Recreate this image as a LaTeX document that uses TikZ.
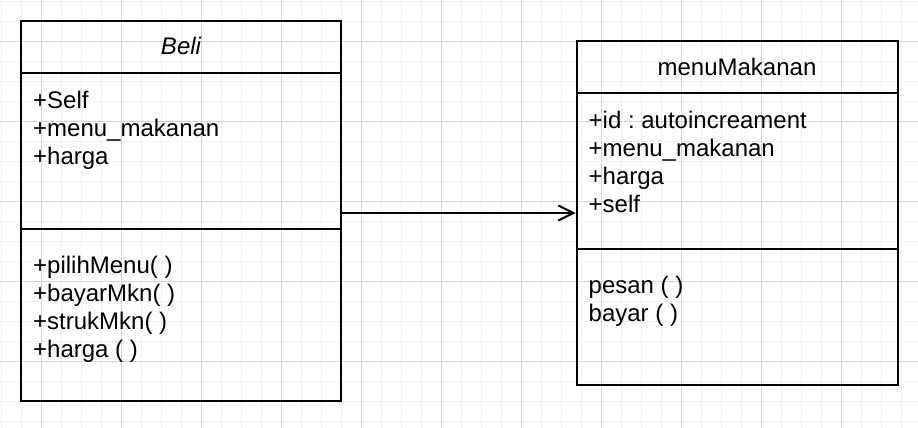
\documentclass[tikz,border=0pt]{standalone}
\usepackage{fontspec}
\setmainfont{Liberation Sans}
\usetikzlibrary{arrows.meta}
\definecolor{gridminor}{HTML}{F2F2F2}
\definecolor{gridmajor}{HTML}{D4D4D4}
\frenchspacing

\begin{document}
\begin{tikzpicture}[x=1pt, y=-1pt,
        member/.style={anchor=base west, inner sep=0pt, font=\fontsize{24}{28}\selectfont},
        title/.style={anchor=base, inner sep=0pt, font=\fontsize{24}{28}\selectfont},
        classbox/.style={draw, line width=2pt, inner sep=0pt}]
        \useasboundingbox (0,0) rectangle (918,428);
        \fill[white] (0,0) rectangle (918,428);

        \foreach \k in {0,...,45} \draw[gridminor, line width=1pt] ({1.7+20*\k},0) -- ({1.7+20*\k},428);
        \foreach \k in {0,...,21} \draw[gridminor, line width=1pt] (0,{1.7+20*\k}) -- (918,{1.7+20*\k});
        \foreach \k in {0,...,11} \draw[gridmajor, line width=1pt] ({41.7+80*\k},0) -- ({41.7+80*\k},428);
        \foreach \k in {0,...,4} \draw[gridmajor, line width=1pt] (0,{41.7+80*\k}) -- (918,{41.7+80*\k});

        \node[classbox, minimum width=320pt, minimum height=380pt] (beli) at (181,211) {};
        \draw[line width=2pt] (21,73) -- (341,73);
        \draw[line width=2pt] (21,229) -- (341,229);
        \node[title, font=\fontsize{24}{28}\selectfont\itshape] (beliname) at (181,55) {Beli};
        \node[member] (beliself) at (33,108.4) {+Self};
        \node[member] (belimenu) at (33,136.4) {+menu\_makanan};
        \node[member] (beliharga) at (33,164.4) {+harga};
        \node[member] (pilih) at (33,273.4) {+pilihMenu( )};
        \node[member] (bayarmkn) at (33,301.4) {+bayarMkn( )};
        \node[member] (struk) at (33,329.4) {+strukMkn( )};
        \node[member] (hargaop) at (33,357.4) {+harga ( )};

        \node[classbox, minimum width=321pt, minimum height=343pt] (menu) at (737,213) {};
        \draw[line width=2pt] (576.5,93) -- (897.5,93);
        \draw[line width=2pt] (576.5,249) -- (897.5,249);
        \node[title] (menuname) at (737,75) {menuMakanan};
        \node[member] (menuid) at (588.5,128.4) {+id : autoincreament};
        \node[member] (menumenu) at (588.5,156.4) {+menu\_makanan};
        \node[member] (menuharga) at (588.5,184.4) {+harga};
        \node[member] (menuself) at (588.5,212.4) {+self};
        \node[member] (pesan) at (588.5,293) {pesan ( )};
        \node[member] (bayar) at (588.5,321) {bayar ( )};

        \draw[line width=2pt, -{Straight Barb[length=15pt, width=15pt, line width=2pt]}] (beli.east |- menu.west) -- (menu.west);

    \end{tikzpicture}
\end{document}
